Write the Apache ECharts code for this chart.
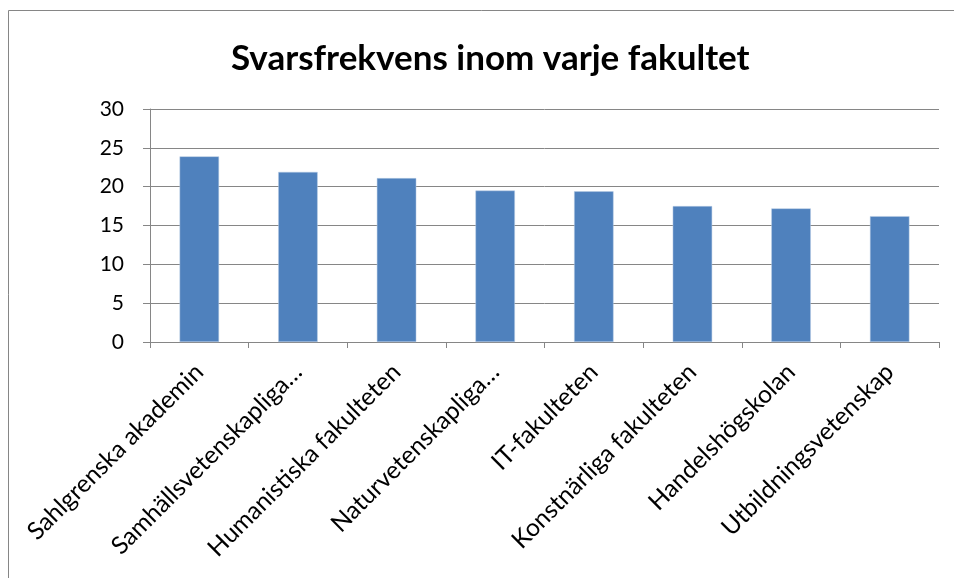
<!DOCTYPE html>
<html>
<head>
<meta charset="utf-8">
<script src="https://cdn.jsdelivr.net/npm/echarts@6/dist/echarts.min.js"></script>
<style>
  html, body { margin: 0; padding: 0; background: #fff; }
  #chart { width: 954px; height: 578px; }
</style>
</head>
<body>
<div id="chart"></div>
<script>
// fakulteter (som de visas i diagrammet)
const categories = [
  'Sahlgrenska akademin',
  'Samhällsvetenskapliga…',
  'Humanistiska fakulteten',
  'Naturvetenskapliga…',
  'IT-fakulteten',
  'Konstnärliga fakulteten',
  'Handelshögskolan',
  'Utbildningsvetenskap'
]
const svarsfrekvens = [23.9, 21.9, 21.1, 19.5, 19.4, 17.5, 17.2, 16.2]
const yTicks = [0, 5, 10, 15, 20, 25, 30]

const font = 'Lato, "Open Sans", sans-serif'
const chart = echarts.init(document.getElementById('chart'))

const options = {
  animation: false,
  title: {
    text: 'Svarsfrekvens inom varje fakultet',
    left: 226,
    top: 36,
    textStyle: {
      fontFamily: font,
      fontWeight: 'bold',
      fontSize: 35,
      color: '#000'
    }
  },
  graphic: [
    {
      // ram runt diagrammet
      type: 'rect',
      shape: { x: 8.5, y: 10.5, width: 1000, height: 1000 },
      style: { fill: 'none', stroke: '#868686', lineWidth: 1 },
      silent: true
    }
  ],
  grid: {
    left: 150,
    right: 15,
    top: 109,
    bottom: 236
  },
  xAxis: {
    type: 'category',
    data: categories,
    axisLine: { lineStyle: { color: '#868686', width: 1 } },
    axisTick: { show: true, length: 6, lineStyle: { color: '#868686' } },
    axisLabel: {
      rotate: 45,
      interval: 0,
      margin: 26,
      color: '#000',
      fontFamily: font,
      fontSize: 24.5
    }
  },
  yAxis: {
    type: 'value',
    min: yTicks[0],
    max: yTicks[yTicks.length - 1],
    interval: 5,
    axisLine: { show: true, lineStyle: { color: '#868686', width: 1 } },
    axisTick: { show: true, length: 7, lineStyle: { color: '#868686' } },
    axisLabel: {
      margin: 26,
      color: '#000',
      fontFamily: font,
      fontSize: 21
    },
    splitLine: { show: true, lineStyle: { color: '#868686', width: 1 } }
  },
  series: [
    {
      type: 'bar',
      data: svarsfrekvens,
      barCategoryGap: '60%',
      itemStyle: {
        color: '#4F81BD',
        borderColor: '#b9cde5',
        borderWidth: 0.5
      }
    }
  ]
}

chart.setOption(options)
</script>
</body>
</html>
